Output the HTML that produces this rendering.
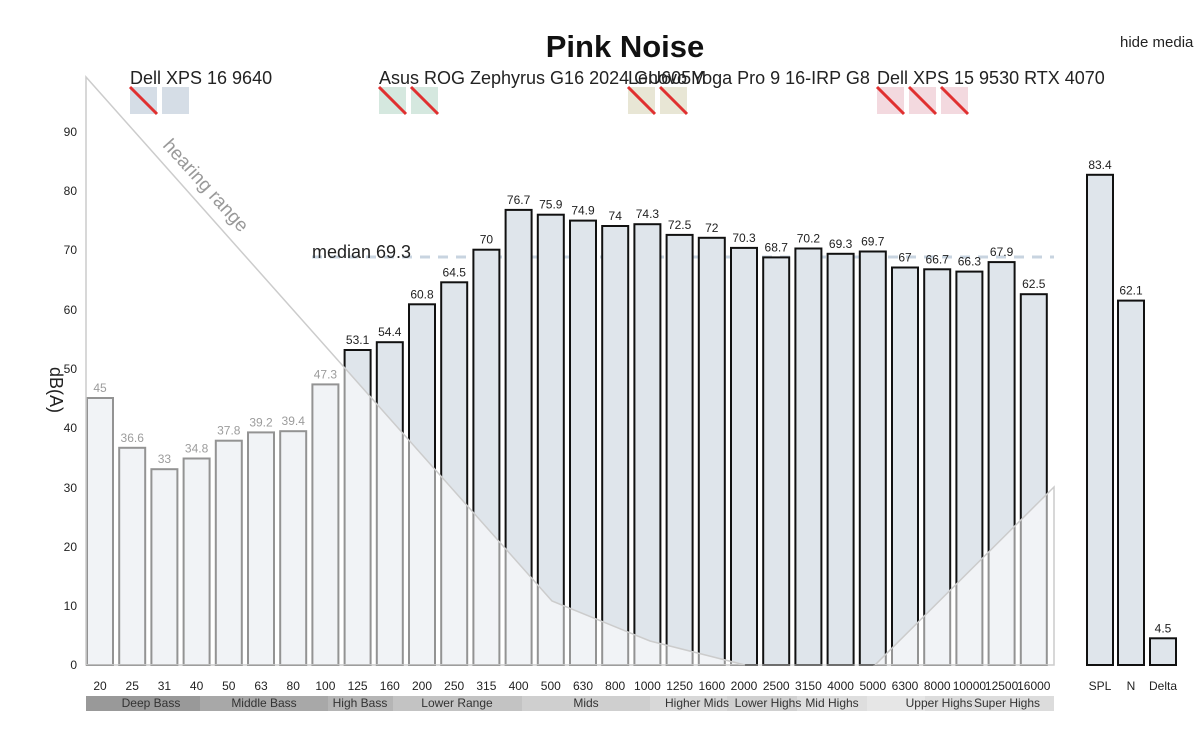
<!DOCTYPE html>
<html><head><meta charset="utf-8"><style>
body{margin:0;background:#fff;width:1200px;height:740px;overflow:hidden;font-family:"Liberation Sans",sans-serif}
</style></head><body>
<svg width="1200" height="740" xmlns="http://www.w3.org/2000/svg" font-family="Liberation Sans, sans-serif">
<text x="625" y="57" text-anchor="middle" font-size="31" font-weight="bold" fill="#111">Pink Noise</text>
<text x="1120" y="47" font-size="15" fill="#222">hide media</text>
<g font-size="18" fill="#222">
<text x="130" y="84">Dell XPS 16 9640</text>
<text x="379" y="84">Asus ROG Zephyrus G16 2024 GU605M</text>
<text x="628" y="84">Lenovo Yoga Pro 9 16-IRP G8</text>
<text x="877" y="84">Dell XPS 15 9530 RTX 4070</text>
</g>
<rect x="130" y="87" width="27" height="27" fill="#d5dde6"/><rect x="162" y="87" width="27" height="27" fill="#d5dde6"/>
<rect x="379" y="87" width="27" height="27" fill="#d5e8df"/><rect x="411" y="87" width="27" height="27" fill="#d5e8df"/>
<rect x="628" y="87" width="27" height="27" fill="#e8e6d5"/><rect x="660" y="87" width="27" height="27" fill="#e8e6d5"/>
<rect x="877" y="87" width="27" height="27" fill="#f3d9df"/><rect x="909" y="87" width="27" height="27" fill="#f3d9df"/><rect x="941" y="87" width="27" height="27" fill="#f3d9df"/>
<g stroke="#e03030" stroke-width="3">
<line x1="130" y1="87" x2="157" y2="114"/><line x1="379" y1="87" x2="406" y2="114"/><line x1="411" y1="87" x2="438" y2="114"/>
<line x1="628" y1="87" x2="655" y2="114"/><line x1="660" y1="87" x2="687" y2="114"/>
<line x1="877" y1="87" x2="904" y2="114"/><line x1="909" y1="87" x2="936" y2="114"/><line x1="941" y1="87" x2="968" y2="114"/>
</g>
<g font-size="12" fill="#222" text-anchor="end">
<text x="77" y="669">0</text><text x="77" y="610">10</text><text x="77" y="551">20</text><text x="77" y="492">30</text><text x="77" y="432">40</text><text x="77" y="373">50</text><text x="77" y="314">60</text><text x="77" y="254">70</text><text x="77" y="195">80</text><text x="77" y="136">90</text>
</g>
<text transform="translate(50,390) rotate(90)" font-size="18" fill="#222" text-anchor="middle">dB(A)</text>
<line x1="312" y1="257" x2="1054" y2="257" stroke="#c8d4e0" stroke-width="3" stroke-dasharray="10,8"/>
<text x="312" y="258" font-size="18" fill="#222">median 69.3</text>

<g fill="#dfe5eb" stroke="#111" stroke-width="2">
<rect x="87" y="398" width="26" height="267"/>
<rect x="119.2" y="447.8" width="26" height="217.2"/>
<rect x="151.4" y="469.2" width="26" height="195.8"/>
<rect x="183.6" y="458.5" width="26" height="206.5"/>
<rect x="215.8" y="440.7" width="26" height="224.3"/>
<rect x="248" y="432.4" width="26" height="232.6"/>
<rect x="280.2" y="431.2" width="26" height="233.8"/>
<rect x="312.4" y="384.4" width="26" height="280.6"/>
<rect x="344.6" y="350" width="26" height="315"/>
<rect x="376.8" y="342.2" width="26" height="322.8"/>
<rect x="409" y="304.3" width="26" height="360.7"/>
<rect x="441.2" y="282.3" width="26" height="382.7"/>
<rect x="473.4" y="249.7" width="26" height="415.3"/>
<rect x="505.6" y="209.9" width="26" height="455.1"/>
<rect x="537.8" y="214.7" width="26" height="450.3"/>
<rect x="570" y="220.6" width="26" height="444.4"/>
<rect x="602.2" y="226" width="26" height="439"/>
<rect x="634.4" y="224.2" width="26" height="440.8"/>
<rect x="666.6" y="234.9" width="26" height="430.1"/>
<rect x="698.8" y="237.8" width="26" height="427.2"/>
<rect x="731" y="247.9" width="26" height="417.1"/>
<rect x="763.2" y="257.4" width="26" height="407.6"/>
<rect x="795.4" y="248.5" width="26" height="416.5"/>
<rect x="827.6" y="253.8" width="26" height="411.2"/>
<rect x="859.8" y="251.5" width="26" height="413.5"/>
<rect x="892" y="267.5" width="26" height="397.5"/>
<rect x="924.2" y="269.3" width="26" height="395.7"/>
<rect x="956.4" y="271.6" width="26" height="393.4"/>
<rect x="988.6" y="262.1" width="26" height="402.9"/>
<rect x="1020.8" y="294.2" width="26" height="370.8"/>
<rect x="1087" y="174.8" width="26" height="490.2"/>
<rect x="1118" y="300.6" width="26" height="364.4"/>
<rect x="1150" y="638.3" width="26" height="26.7"/>
</g>
<g font-size="12" fill="#222" text-anchor="middle">
<text x="100" y="392">45</text>
<text x="132.2" y="441.8">36.6</text>
<text x="164.4" y="463.2">33</text>
<text x="196.6" y="452.5">34.8</text>
<text x="228.8" y="434.7">37.8</text>
<text x="261" y="426.4">39.2</text>
<text x="293.2" y="425.2">39.4</text>
<text x="325.4" y="378.4">47.3</text>
<text x="357.6" y="344">53.1</text>
<text x="389.8" y="336.2">54.4</text>
<text x="422" y="298.3">60.8</text>
<text x="454.2" y="276.3">64.5</text>
<text x="486.4" y="243.7">70</text>
<text x="518.6" y="203.9">76.7</text>
<text x="550.8" y="208.7">75.9</text>
<text x="583" y="214.6">74.9</text>
<text x="615.2" y="220">74</text>
<text x="647.4" y="218.2">74.3</text>
<text x="679.6" y="228.9">72.5</text>
<text x="711.8" y="231.8">72</text>
<text x="744" y="241.9">70.3</text>
<text x="776.2" y="251.4">68.7</text>
<text x="808.4" y="242.5">70.2</text>
<text x="840.6" y="247.8">69.3</text>
<text x="872.8" y="245.5">69.7</text>
<text x="905" y="261.5">67</text>
<text x="937.2" y="263.3">66.7</text>
<text x="969.4" y="265.6">66.3</text>
<text x="1001.6" y="256.1">67.9</text>
<text x="1033.8" y="288.2">62.5</text>
<text x="1100" y="168.8">83.4</text>
<text x="1131" y="294.6">62.1</text>
<text x="1163" y="632.3">4.5</text>
</g>
<g font-size="12" fill="#222" text-anchor="middle">
<text x="100" y="690">20</text><text x="132.2" y="690">25</text><text x="164.4" y="690">31</text><text x="196.6" y="690">40</text><text x="228.8" y="690">50</text><text x="261" y="690">63</text><text x="293.2" y="690">80</text><text x="325.4" y="690">100</text><text x="357.6" y="690">125</text><text x="389.8" y="690">160</text><text x="422" y="690">200</text><text x="454.2" y="690">250</text><text x="486.4" y="690">315</text><text x="518.6" y="690">400</text><text x="550.8" y="690">500</text><text x="583" y="690">630</text><text x="615.2" y="690">800</text><text x="647.4" y="690">1000</text><text x="679.6" y="690">1250</text><text x="711.8" y="690">1600</text><text x="744" y="690">2000</text><text x="776.2" y="690">2500</text><text x="808.4" y="690">3150</text><text x="840.6" y="690">4000</text><text x="872.8" y="690">5000</text><text x="905" y="690">6300</text><text x="937.2" y="690">8000</text><text x="969.4" y="690">10000</text><text x="1001.6" y="690">12500</text><text x="1033.8" y="690">16000</text>
<text x="1100" y="690">SPL</text><text x="1131" y="690">N</text><text x="1163" y="690">Delta</text>
</g>
<line x1="86" y1="665" x2="1054" y2="665" stroke="#ccc"/>
<polygon points="86,77 552,601 650,641 745,665 86,665" fill="rgba(255,255,255,0.55)" stroke="#ccc" stroke-width="1.5"/>
<polygon points="875,665 1054,487 1054,665" fill="rgba(255,255,255,0.55)" stroke="#ccc" stroke-width="1.5"/>
<text transform="translate(162,146) rotate(48)" font-size="19" fill="#999">hearing range</text>
<g>
<rect x="86" y="696" width="114" height="15" fill="#999"/>
<rect x="200" y="696" width="128" height="15" fill="#a8a8a8"/>
<rect x="328" y="696" width="65" height="15" fill="#b5b5b5"/>
<rect x="393" y="696" width="129" height="15" fill="#c3c3c3"/>
<rect x="522" y="696" width="128" height="15" fill="#cfcfcf"/>
<rect x="650" y="696" width="77" height="15" fill="#d8d8d8"/>
<rect x="727" y="696" width="70" height="15" fill="#d0d0d0"/>
<rect x="797" y="696" width="70" height="15" fill="#dedede"/>
<rect x="867" y="696" width="58" height="15" fill="#e6e6e6"/>
<rect x="925" y="696" width="129" height="15" fill="#dcdcdc"/>
</g>
<g font-size="12" fill="#333" text-anchor="middle">
<text x="151" y="707">Deep Bass</text>
<text x="264" y="707">Middle Bass</text>
<text x="360" y="707">High Bass</text>
<text x="457" y="707">Lower Range</text>
<text x="586" y="707">Mids</text>
<text x="697" y="707">Higher Mids</text>
<text x="768" y="707">Lower Highs</text>
<text x="832" y="707">Mid Highs</text>
<text x="939" y="707">Upper Highs</text>
<text x="1007" y="707">Super Highs</text>
</g>
</svg>
</body></html>
